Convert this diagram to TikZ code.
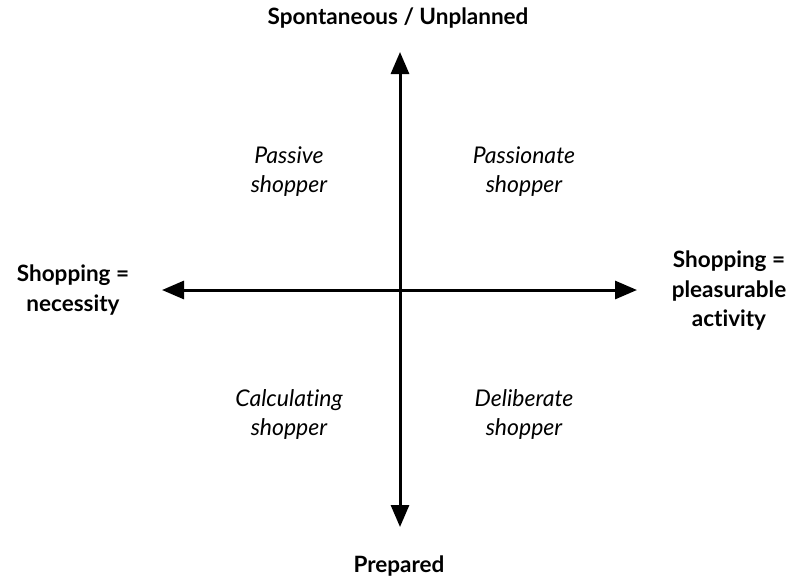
\documentclass[tikz,border=0pt]{standalone}
\usepackage{fontspec}
\setmainfont[Ligatures=NoCommon]{Lato}
\usetikzlibrary{arrows.meta,positioning}

\begin{document}
\begin{tikzpicture}[
    x=1pt, y=-1pt,
    axis/.style={{Triangle[length=22pt,width=18pt]}-{Triangle[length=22pt,width=18pt]}, line width=3pt},
    pole/.style={align=center, font=\fontsize{22.5}{29.5}\selectfont\bfseries, inner sep=0pt},
    kind/.style={align=center, font=\fontsize{23}{29}\selectfont\itshape, inner sep=0pt}
]
\useasboundingbox (0,0) rectangle (791,582);

% axis ends
\node[pole] (top) at (398,18) {Spontaneous / Unplanned};
\node[pole] (bottom) at (399,566) {Prepared};
\node[pole] (left) at (73,290) {Shopping =\\necessity};
\node[pole] (right) at (729,291) {Shopping =\\pleasurable\\activity};

\coordinate (up) at (400,52);
\coordinate (down) at (400,527);
\coordinate (west) at (162,290);
\coordinate (east) at (637,290);

\draw[axis] (down) -- (up);
\draw[axis] (west) -- (east);

% quadrants
\node[kind] (passive) at (289,172) {Passive\\shopper};
\node[kind] (passionate) at (524,172) {Passionate\\shopper};
\node[kind] (calculating) at (289,414) {Calculating\\shopper};
\node[kind] (deliberate) at (524,414) {Deliberate\\shopper};

\end{tikzpicture}
\end{document}
